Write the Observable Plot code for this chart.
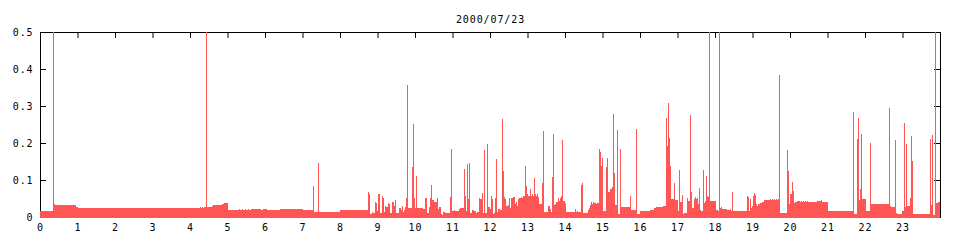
<!DOCTYPE html>
<html><head><meta charset="utf-8">
<script src="https://cdn.jsdelivr.net/npm/d3@7"></script>
<script src="https://cdn.jsdelivr.net/npm/@observablehq/plot@0.6"></script>
<style>body{margin:0;background:#fff}</style>
</head><body><div id="chart"></div>
<script>
const title = "2000/07/23";
// time in minutes since midnight (step starts) and value of each step
const t00 = [0, 20.8, 22.4, 24, 57.6, 60, 256, 257.6, 259.2, 260.8, 262.4, 265.6, 267.2, 275.2, 276.8, 283.2, 291.2, 294.4];
const v00 = [0.017, 0.5, 0.034, 0.032, 0.028, 0.024, 0.027, 0.024, 0.027, 0.024, 0.027, 0.5, 0.027, 0.030, 0.032, 0.033, 0.036, 0.039];
const t05 = [300, 318.4, 320, 323.2, 324.8, 328, 329.6, 332.8, 334.4, 337.6, 353.6, 356.8, 363.2, 384, 420, 436.8, 438.4, 444.8, 446.4];
const v05 = [0.019, 0.021, 0.019, 0.021, 0.019, 0.021, 0.019, 0.021, 0.019, 0.021, 0.019, 0.021, 0.019, 0.021, 0.019, 0.084, 0.014, 0.146, 0.014];
const t08 = [480, 524.8, 526.4, 528, 531.2, 532.8, 536, 537.6, 539.2, 540.8, 544, 547.2, 548.8, 550.4, 552, 553.6, 556.8, 558.4, 560, 563.2, 566.4, 568, 569.6, 574.4, 577.6, 579.2, 580.8, 582.4, 584, 585.6, 587.2, 588.8, 595.2, 596.8, 598.4];
const v08 = [0.019, 0.068, 0.062, 0.009, 0.014, 0.011, 0.041, 0.038, 0.011, 0.062, 0.010, 0.057, 0.051, 0.014, 0.030, 0.027, 0.038, 0.035, 0.011, 0.041, 0.030, 0.046, 0.011, 0.024, 0.019, 0.030, 0.014, 0.019, 0.027, 0.051, 0.356, 0.025, 0.135, 0.252, 0.051];
const t10 = [600, 601.6, 603.2, 612.8, 616, 619.2, 622.4, 624, 625.6, 627.2, 630.4, 635.2, 636.8, 638.4, 641.6, 643.2, 644.8, 648, 656, 657.6, 659.2, 662.4, 664, 670.4, 672, 675.2, 678.4, 680, 681.6, 683.2, 684.8, 686.4, 688, 691.2, 694.4, 697.6, 699.2, 702.4, 704, 707.2, 708.8, 710.4, 712, 715.2, 716.8];
const v10 = [0.024, 0.111, 0.024, 0.022, 0.051, 0.011, 0.027, 0.051, 0.086, 0.046, 0.041, 0.051, 0.022, 0.027, 0.008, 0.005, 0.014, 0.011, 0.054, 0.184, 0.014, 0.019, 0.016, 0.022, 0.024, 0.023, 0.130, 0.057, 0.016, 0.144, 0.049, 0.146, 0.011, 0.019, 0.016, 0.011, 0.014, 0.051, 0.049, 0.065, 0.011, 0.181, 0.011, 0.197, 0.027];
const t12 = [720, 721.6, 723.2, 724.8, 726.4, 728, 729.6, 731.2, 732.8, 736, 739.2, 740.8, 742.4, 744, 745.6, 748.8, 750.4, 752, 753.6, 756.8, 760, 761.6, 763.2, 764.8, 766.4, 769.6, 771.2, 772.8, 776, 777.6, 779.2, 780.8, 784, 785.6, 787.2, 788.8, 790.4, 792, 793.6, 795.2, 796.8, 798.4, 803.2, 804.8, 806.4, 812.8, 816, 817.6, 819.2, 820.8, 822.4, 824, 825.6, 828.8, 830.4, 832, 833.6, 835.2, 836.8];
const v12 = [0.022, 0.057, 0.049, 0.008, 0.011, 0.051, 0.157, 0.014, 0.022, 0.019, 0.265, 0.124, 0.054, 0.049, 0.030, 0.032, 0.051, 0.024, 0.051, 0.054, 0.035, 0.041, 0.030, 0.049, 0.051, 0.054, 0.051, 0.057, 0.137, 0.084, 0.062, 0.057, 0.076, 0.057, 0.062, 0.057, 0.105, 0.062, 0.057, 0.062, 0.054, 0.035, 0.092, 0.232, 0.014, 0.030, 0.022, 0.014, 0.108, 0.224, 0.032, 0.035, 0.041, 0.051, 0.043, 0.051, 0.057, 0.208, 0.043];
const t14 = [840, 841.6, 856, 857.6, 859.2, 860.8, 865.6, 867.2, 868.8, 876.8, 878.4, 880, 881.6, 883.2, 884.8, 886.4, 889.6, 891.2, 894.4, 896, 897.6, 899.2, 900.8, 905.6, 907.2, 908.8, 912, 915.2, 916.8, 918.4, 920, 923.2, 924.8, 928, 929.6, 944, 945.6, 953.6, 955.2];
const v14 = [0.038, 0.014, 0.022, 0.014, 0.016, 0.014, 0.086, 0.092, 0.011, 0.019, 0.024, 0.032, 0.041, 0.035, 0.041, 0.038, 0.035, 0.038, 0.184, 0.176, 0.137, 0.160, 0.016, 0.135, 0.160, 0.068, 0.076, 0.081, 0.278, 0.119, 0.033, 0.235, 0.009, 0.184, 0.027, 0.057, 0.019, 0.238, 0.008];
const t16 = [960, 976, 982.4, 985.6, 996.8, 1001.6, 1003.2, 1004.8, 1006.4, 1008, 1009.6, 1014.4, 1016, 1020.8, 1022.4, 1024, 1027.2, 1028.8, 1030.4, 1035.2, 1036.8, 1040, 1041.6, 1043.2, 1046.4, 1048, 1049.6, 1051.2, 1052.8, 1054.4, 1056, 1057.6, 1060.8, 1062.4, 1064, 1065.6, 1067.2, 1068.8, 1070.4, 1072];
const v16 = [0.016, 0.019, 0.024, 0.027, 0.030, 0.268, 0.192, 0.308, 0.214, 0.139, 0.049, 0.092, 0.046, 0.014, 0.127, 0.041, 0.059, 0.008, 0.011, 0.051, 0.043, 0.276, 0.068, 0.024, 0.049, 0.054, 0.049, 0.051, 0.035, 0.078, 0.019, 0.016, 0.127, 0.038, 0.043, 0.111, 0.057, 0.054, 0.5, 0.043];
const t18 = [1081.6, 1084.8, 1086.4, 1088, 1089.6, 1091.2, 1099.2, 1104, 1105.6, 1107.2, 1108.8, 1131.2, 1132.8, 1134.4, 1136, 1137.6, 1139.2, 1140.8, 1142.4, 1144, 1145.6, 1147.2, 1148.8, 1152, 1155.2, 1158.4, 1168, 1169.6, 1171.2, 1172.8, 1174.4, 1176, 1177.6, 1179.2, 1180.8, 1182.4, 1184, 1195.2, 1196.8, 1198.4];
const v18 = [0.019, 0.016, 0.5, 0.024, 0.027, 0.022, 0.019, 0.022, 0.016, 0.068, 0.016, 0.057, 0.054, 0.016, 0.049, 0.024, 0.030, 0.057, 0.065, 0.059, 0.035, 0.030, 0.035, 0.038, 0.041, 0.046, 0.049, 0.046, 0.049, 0.046, 0.049, 0.046, 0.049, 0.046, 0.049, 0.384, 0.011, 0.181, 0.124, 0.035];
const t20 = [1200, 1203.2, 1204.8, 1206.4, 1208, 1211.2, 1216, 1217.6, 1219.2, 1220.8, 1222.4, 1224, 1225.6, 1227.2, 1228.8, 1243.2, 1249.6, 1251.2, 1260, 1300.8, 1302.4, 1307.2, 1308.8, 1310.4, 1312, 1313.6, 1315.2];
const v20 = [0.062, 0.095, 0.070, 0.038, 0.041, 0.043, 0.041, 0.043, 0.041, 0.043, 0.041, 0.043, 0.041, 0.043, 0.041, 0.043, 0.046, 0.041, 0.016, 0.284, 0.008, 0.211, 0.267, 0.046, 0.076, 0.224, 0.049];
const t22 = [1321.6, 1328, 1329.6, 1358.4, 1360, 1361.6, 1368, 1369.6, 1371.2, 1380.8, 1382.4, 1384, 1385.6, 1387.2, 1392, 1393.6, 1395.2, 1396.8, 1424, 1425.6, 1427.2, 1428.8, 1432, 1433.6, 1436.8];
const v22 = [0.016, 0.200, 0.035, 0.294, 0.030, 0.027, 0.208, 0.011, 0.008, 0.014, 0.254, 0.027, 0.197, 0.030, 0.051, 0.219, 0.151, 0.008, 0.211, 0.032, 0.222, 0.005, 0.5, 0.038, 0.040];

const xTicks = [0,1,2,3,4,5,6,7,8,9,10,11,12,13,14,15,16,17,18,19,20,21,22,23];
const yTicks = [0, 0.1, 0.2, 0.3, 0.4, 0.5];
const yTickLabels = ["0", "0.1", "0.2", "0.3", "0.4", "0.5"];

const times = [].concat(t00, t05, t08, t10, t12, t14, t16, t18, t20, t22);
const vals = [].concat(v00, v05, v08, v10, v12, v14, v16, v18, v20, v22);
const data = times.map((m, i) => ({hour: m / 60, value: vals[i]}));
data.push({hour: 24, value: vals[vals.length - 1]});

const W = 960, H = 240, mL = 40, mR = 20, mT = 32, mB = 23;
const fw = W - mL - mR, fh = H - mT - mB;
const red = "#ff5555";
const base = -1 / 370;

const chart = Plot.plot({
  width: W, height: H,
  marginLeft: mL, marginRight: mR, marginTop: mT, marginBottom: mB,
  style: {fontFamily: "'DejaVu Sans Mono', monospace", fontSize: "10px", letterSpacing: "0.9px", color: "black", background: "white"},
  x: {domain: [0, 24]},
  y: {domain: [0, 0.5]},
  marks: [
    Plot.ruleX([0, 24], {stroke: "black"}),
    Plot.ruleY([0, 0.5], {stroke: "black", insetRight: -1}),
    Plot.tickX(xTicks.slice(1), {x: d => d, insetBottom: fh - 6, stroke: "black"}),
    Plot.tickX(xTicks.slice(1), {x: d => d, insetTop: fh - 6, stroke: "black"}),
    Plot.tickY(yTicks.slice(1, -1), {y: d => d, insetRight: fw - 6, stroke: "black"}),
    Plot.tickY(yTicks.slice(1, -1), {y: d => d, insetLeft: fw - 6, stroke: "black"}),
    Plot.areaY(data, {x: "hour", y1: () => base, y2: "value", curve: "step-after", fill: red, shapeRendering: "crispEdges"}),
    Plot.axisX(xTicks, {anchor: "bottom", tickSize: 0, tickPadding: 6, label: null, tickFormat: d => String(d)}),
    Plot.axisY(yTicks, {anchor: "left", tickSize: 0, tickPadding: 7, label: null, tickFormat: d => yTickLabels[yTicks.indexOf(d)]}),
    Plot.text([title], {frameAnchor: "top", dy: -17, text: d => d, fill: "black"})
  ]
});
document.getElementById("chart").appendChild(chart);
</script>
</body></html>
